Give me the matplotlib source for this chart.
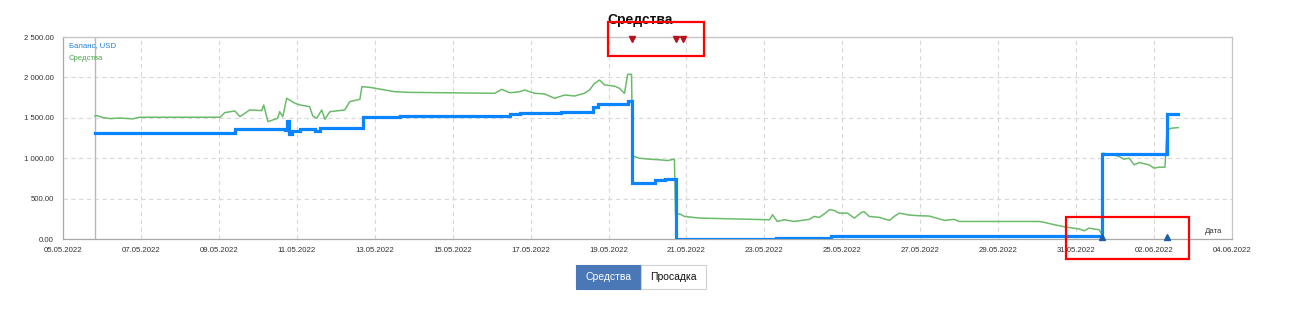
import matplotlib
matplotlib.use("Agg")
import matplotlib.pyplot as plt
import matplotlib.dates as mdates
from matplotlib.patches import Rectangle
from matplotlib.ticker import FuncFormatter, MultipleLocator
import pandas as pd

# ---------------- data ----------------
start_date = "2022-05-05"
end_date = "2022-06-04"
title = "Средства"
balance_label = "Баланс, USD"
equity_label = "Средства"
x_axis_label = "Дата"
buttons = ["Средства", "Просадка"]

# balance (step changes): days since 05.05.2022, value
balance_days = [0.82, 4.41, 4.67, 5.69, 5.74, 5.79, 5.87, 6.08, 6.46, 6.59, 7.69, 8.64,
                11.46, 11.72, 12.79, 13.59, 13.74, 14.49, 14.59, 15.18, 15.44, 15.72,
                18.31, 19.15, 19.72, 26.67, 28.33, 28.62]
balance_vals = [1312, 1357, 1365, 1350, 1464, 1300, 1340, 1357, 1340, 1370, 1514, 1526,
                1550, 1565, 1575, 1637, 1671, 1712, 697, 730, 742, 3,
                10, 16, 41, 1056, 1547, 1547]

equity_days = [0.82, 0.87, 1.0, 1.21, 1.46, 1.79, 1.97, 4.03, 4.15, 4.41, 4.54, 4.79, 5.10,
               5.15, 5.26, 5.51, 5.56, 5.64, 5.74, 5.95, 6.08, 6.33, 6.41, 6.51, 6.64, 6.72,
               6.85, 7.23, 7.36, 7.62, 7.67, 7.87, 8.26, 8.51, 8.90, 11.08, 11.26, 11.46,
               11.59, 11.72, 11.85, 12.10, 12.36, 12.62, 12.87, 13.13, 13.38, 13.51, 13.64,
               13.77, 13.90, 14.15, 14.28, 14.41, 14.49, 14.59, 14.62, 14.79, 15.05, 15.31,
               15.51, 15.69, 15.72, 15.82, 15.95, 16.33, 18.13, 18.21, 18.33, 18.51, 18.77,
               19.15, 19.28, 19.41, 19.54, 19.67, 19.79, 19.92, 20.13, 20.31, 20.49, 20.56,
               20.69, 20.95, 21.21, 21.33, 21.46, 21.72, 21.97, 22.23, 22.62, 22.87, 23.00,
               25.05, 25.18, 25.44, 25.69, 26.08, 26.21, 26.33, 26.46, 26.59, 26.67, 26.68,
               26.97, 27.10, 27.23, 27.36, 27.49, 27.62, 27.87, 28.00, 28.13, 28.28, 28.33,
               28.44, 28.62]
equity_vals = [1520, 1527, 1505, 1490, 1497, 1487, 1507, 1507, 1564, 1585, 1514, 1597, 1589,
               1659, 1453, 1494, 1576, 1514, 1741, 1680, 1659, 1638, 1523, 1494, 1597, 1482,
               1576, 1597, 1700, 1729, 1885, 1877, 1844, 1823, 1815, 1803, 1852, 1811,
               1815, 1823, 1844, 1803, 1795, 1741, 1782, 1770, 1803, 1844, 1926,
               1967, 1906, 1893, 1865, 1803, 2038, 2038, 1029, 1000, 988, 980,
               971, 988, 300, 312, 279, 259, 238, 300, 217, 238, 217,
               243, 279, 267, 312, 362, 354, 320, 320, 259, 329, 337,
               279, 267, 230, 279, 320, 296, 288, 284, 230, 243, 217,
               217, 206, 177, 152, 123, 102, 135, 123, 115, 53, 1062,
               1041, 1020, 988, 1000, 918, 946, 918, 877, 889, 889, 1350,
               1371, 1379]

withdraw_days = [14.59, 15.72, 15.90]
deposit_days = [26.67, 28.33]

# ---------------- figure ----------------
W, H = 1290, 312
fig = plt.figure(figsize=(W / 100, H / 100), dpi=100)
FONT = "Liberation Sans"

def fx(px):
    return px / W

def fy(py):
    return 1 - py / H

ax_l, ax_r, ax_t, ax_b = 63, 1232, 37, 239
ax = fig.add_axes([fx(ax_l), fy(ax_b), fx(ax_r - ax_l), (ax_b - ax_t) / H])

t0 = pd.Timestamp(start_date)
bx = t0 + pd.to_timedelta(balance_days, unit="D")
ex = t0 + pd.to_timedelta(equity_days, unit="D")
wx = t0 + pd.to_timedelta(withdraw_days, unit="D")
dx = t0 + pd.to_timedelta(deposit_days, unit="D")

ax.axvline(bx[0], color="#b8b8b8", lw=1.0, zorder=1)
ax.plot(ex, equity_vals, color="#6bbb6b", lw=1.1, zorder=3)
ax.plot(bx, balance_vals, color="#0a84ff", lw=2.3, drawstyle="steps-post", zorder=4,
        solid_joinstyle="miter")
ax.plot(wx, [2478] * len(wx), linestyle="none", marker="v", color="#b5121b",
        markersize=5, zorder=5, clip_on=False)
ax.plot(dx, [25] * len(dx), linestyle="none", marker="^", color="#1b5fa8",
        markersize=5, zorder=5, clip_on=False)

ax.set_xlim(t0, pd.Timestamp(end_date))
ax.set_ylim(0, 2500)
ax.xaxis.set_major_locator(mdates.DayLocator(interval=2))
ax.xaxis.set_major_formatter(mdates.DateFormatter("%d.%m.%Y"))
ax.yaxis.set_major_locator(MultipleLocator(500))
ax.yaxis.set_major_formatter(FuncFormatter(lambda v, p: f"{v:,.2f}".replace(",", " ")))
ax.grid(True, color="#d8d8d8", linestyle=(0, (4, 3)), lw=0.8)
ax.set_axisbelow(True)
for s in ax.spines.values():
    s.set_color("#c4c4c4")
    s.set_linewidth(0.9)
ax.spines["left"].set_color("#a8a8a8")
ax.spines["bottom"].set_color("#a8a8a8")
ax.tick_params(axis="both", length=0, labelsize=5.6, labelcolor="#333333")
ax.tick_params(axis="y", pad=6.5)
ax.tick_params(axis="x", pad=5.5)
for lab in ax.get_xticklabels() + ax.get_yticklabels():
    lab.set_fontfamily(FONT)

ax.text(0.005, 0.958, balance_label, transform=ax.transAxes, fontsize=5.6,
        color="#2680dc", family=FONT, va="center", ha="left")
ax.text(0.005, 0.893, equity_label, transform=ax.transAxes, fontsize=5.6,
        color="#4fa84f", family=FONT, va="center", ha="left")
ax.text(0.984, 0.035, x_axis_label, transform=ax.transAxes, fontsize=5.6,
        color="#333333", family=FONT, va="center", ha="center")

fig.text(fx(640), fy(20), title, fontsize=10, fontweight="bold", family=FONT,
         ha="center", va="center", color="#111111")

# buttons
fig.patches.append(Rectangle((fx(576), fy(289)), fx(641 - 576), (289 - 265) / H,
                             transform=fig.transFigure, facecolor="#4a78b6",
                             edgecolor="#4a78b6", lw=0.8))
fig.patches.append(Rectangle((fx(641), fy(289)), fx(706 - 641), (289 - 265) / H,
                             transform=fig.transFigure, facecolor="white",
                             edgecolor="#d0d0d0", lw=0.8))
fig.text(fx(608.5), fy(277), buttons[0], fontsize=7.5, family=FONT, color="white",
         ha="center", va="center")
fig.text(fx(673.5), fy(277), buttons[1], fontsize=7.5, family=FONT, color="#111111",
         ha="center", va="center")

# red annotation boxes
fig.patches.append(Rectangle((fx(608), fy(56)), fx(704 - 608), (56 - 22) / H,
                             transform=fig.transFigure, facecolor="none",
                             edgecolor="#ff0000", lw=1.6, zorder=10))
fig.patches.append(Rectangle((fx(1066), fy(259)), fx(1189 - 1066), (259 - 217) / H,
                             transform=fig.transFigure, facecolor="none",
                             edgecolor="#ff0000", lw=1.6, zorder=10))

fig.savefig("out.png", dpi=100, facecolor="white")
